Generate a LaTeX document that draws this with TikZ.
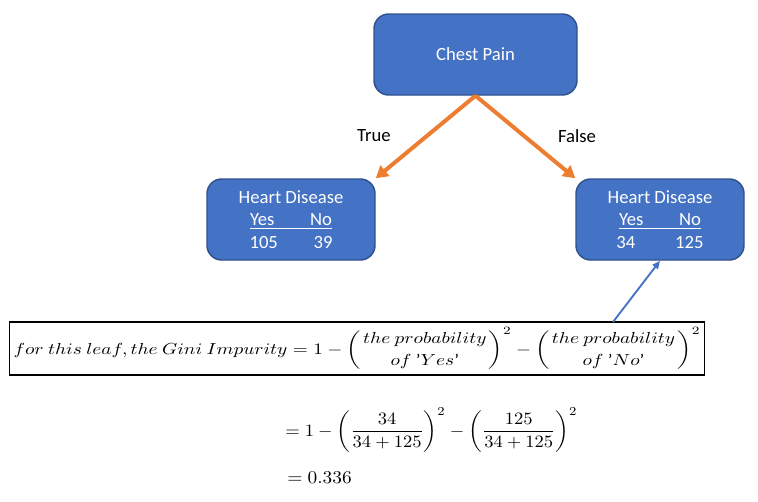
\documentclass[tikz,border=0pt]{standalone}
\usepackage{amsmath}
\usepackage{graphicx}
\usepackage[no-math]{fontspec}
\setmainfont{Carlito}
\usetikzlibrary{arrows.meta}

\begin{document}
\begin{tikzpicture}[x=0.75pt,y=-0.75pt,
  treeBox/.style={draw=boxLine,fill=boxFill,line width=1.1pt,rounded corners=11pt,
    text=white,font=\fontsize{14}{17}\selectfont,align=center,inner sep=0pt},
  branchArrow/.style={draw=branchColor,line width=3pt,-{Triangle[length=9pt,width=10pt]}},
  noteArrow/.style={draw=boxFill,line width=1.4pt,-{Triangle[length=6pt,width=5pt]}},
  branchLabel/.style={font=\fontsize{14}{17}\selectfont}]
\definecolor{boxFill}{RGB}{68,114,196}
\definecolor{boxLine}{RGB}{47,82,143}
\definecolor{branchColor}{RGB}{237,125,49}
\useasboundingbox (0,0) rectangle (758,501);
% tree
\node[treeBox,minimum width=152.25pt,minimum height=60.75pt] (root) at (475.5,54.5) {Chest Pain};
\node[treeBox,minimum width=126pt,minimum height=60.75pt] (leftLeaf) at (291,219.5)
  {Heart Disease\\ \underline{\makebox[45pt][l]{Yes}No}\\ \makebox[48pt][l]{105}39};
\node[treeBox,minimum width=126pt,minimum height=60.75pt] (rightLeaf) at (660,219.5)
  {Heart Disease\\ \underline{\makebox[45pt][l]{Yes}No}\\ \makebox[44pt][l]{34}125};
\draw[branchArrow] (root.south) -- (leftLeaf.north east);
\draw[branchArrow] (root.south) -- (rightLeaf.north west);
\node[branchLabel] (trueLabel) at (374,136) {True};
\node[branchLabel] (falseLabel) at (577,136) {False};
% gini formula
\node[draw,line width=0.8pt,inner xsep=3pt,inner ysep=1pt,minimum width=520.5pt,minimum height=39.75pt] (gini) at (357,348.5)
  {\scalebox{1.45}[1.2]{$for\ this\ leaf, the\ Gini\ Impurity = 1 - \left(\genfrac{}{}{0pt}{0}{the\ probability}{of\ \mbox{'}Yes\mbox{'}}\right)^{2} - \left(\genfrac{}{}{0pt}{0}{the\ probability}{of\ \mbox{'}No\mbox{'}}\right)^{2}$}};
\coordinate (noteTail) at (613,322);
\draw[noteArrow] (noteTail) -- (rightLeaf.south);
\node[anchor=west,inner sep=0pt] (calc) at (285,430)
  {\scalebox{1.39}[1.3]{$\displaystyle = 1 - \left(\frac{34}{34+125}\right)^{2} - \left(\frac{125}{34+125}\right)^{2}$}};
\node[anchor=west,inner sep=0pt] (result) at (287,478) {\scalebox{1.45}[1.35]{$= 0.336$}};
\end{tikzpicture}
\end{document}
